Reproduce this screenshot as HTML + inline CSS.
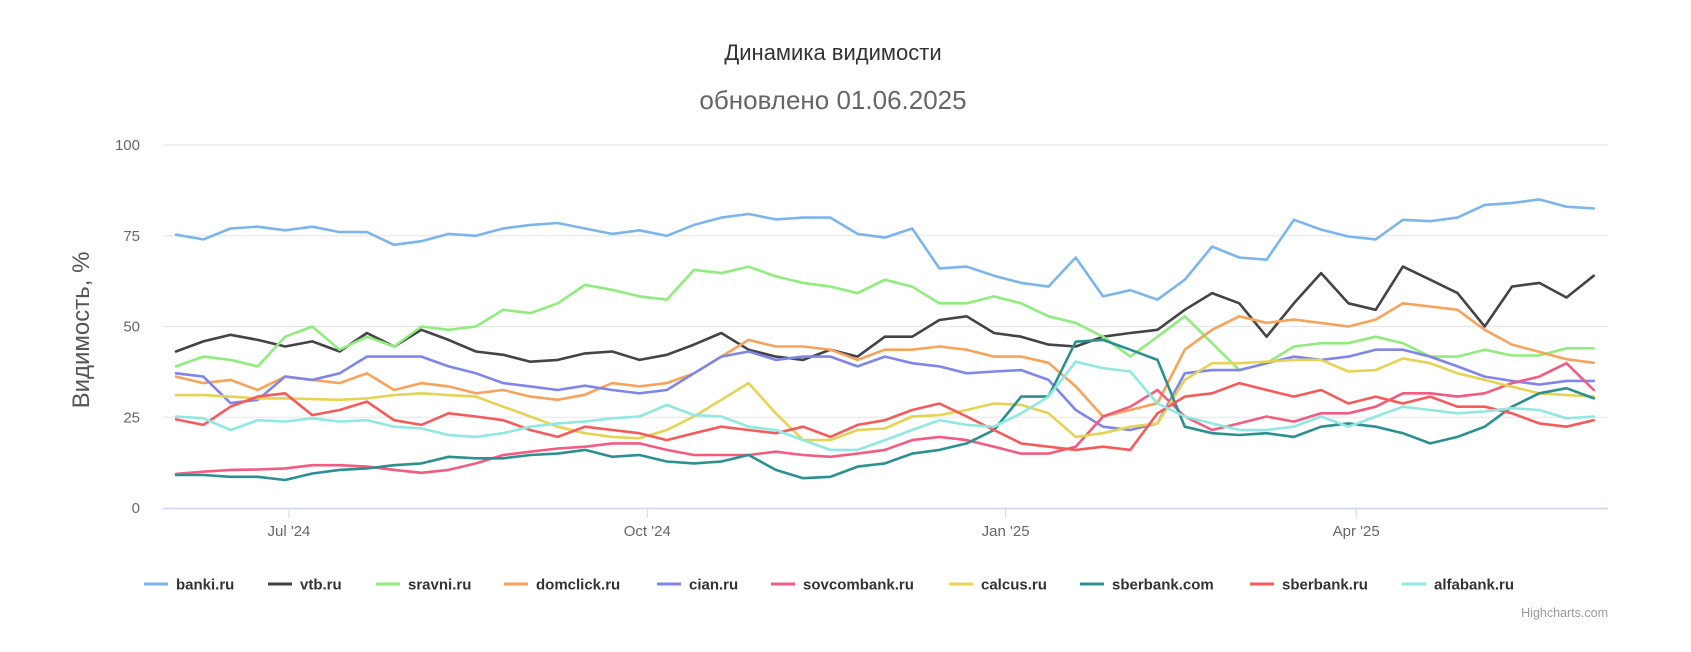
<!DOCTYPE html>
<html><head><meta charset="utf-8"><style>
html,body{margin:0;padding:0;background:#fff;}
svg{display:block;font-family:"Liberation Sans","DejaVu Sans",sans-serif;}
</style></head><body>
<svg id="chart" width="1691" height="652" viewBox="0 0 1691 652">
<text x="833" y="60" text-anchor="middle" font-size="22" fill="#333">Динамика видимости</text>
<text x="833" y="109" text-anchor="middle" font-size="26" fill="#666">обновлено 01.06.2025</text>
<text transform="translate(89,330) rotate(-90)" text-anchor="middle" font-size="24" fill="#555">Видимость, %</text>
<g id="grid"></g>
<g id="series"></g>
<g id="legend"></g>
<text x="1608" y="617" text-anchor="end" font-size="12.5" fill="#999">Highcharts.com</text>
</svg>
<script>
const seriesNames = ["banki.ru","vtb.ru","sravni.ru","domclick.ru","cian.ru","sovcombank.ru","calcus.ru","sberbank.com","sberbank.ru","alfabank.ru"];
const seriesColors = ["#7cb5ec","#434348","#90ed7d","#f7a35c","#8085e9","#f15c80","#e4d354","#2b908f","#f45b5b","#91e8e1"];
const yTicks = [0,25,50,75,100];
const xTickDays = [29,121,213,303];
const xTickLabels = ["Jul '24","Oct '24","Jan '25","Apr '25"];
const dayStep = 7;
const banki = [75.3,74,77,77.5,76.5,77.5,76,76,72.5,73.5,75.5,75,77,78,78.5,77,75.5,76.5,75,78,80,81,79.5,80,80,75.5,74.5,77,66,66.5,64,62,61,69,58.3,60,57.4,62.9,72,69,68.4,79.4,76.7,74.8,74,79.4,79,80,83.5,84,85,83,82.5];
const vtb = [43.1,45.9,47.7,46.3,44.5,45.9,43.1,48.2,44.5,49.1,46.3,43.1,42.2,40.3,40.8,42.6,43.1,40.8,42.2,45,48.2,43.6,41.7,40.8,43.6,41.7,47.2,47.2,51.8,52.8,48.2,47.2,45,44.5,47.2,48.2,49.1,54.6,59.2,56.4,47.2,56.4,64.7,56.4,54.6,66.5,62.9,59.2,50,61,62,58,64];
const sravni = [39,41.7,40.8,39,47.2,50,43.6,47.2,44.5,50,49.1,50,54.6,53.7,56.4,61.5,60.1,58.3,57.4,65.6,64.7,66.5,63.8,62,61,59.2,62.9,61,56.4,56.4,58.3,56.4,52.8,51,47.2,41.7,47.2,52.8,45.4,38,39.9,44.5,45.4,45.4,47.2,45.4,41.7,41.7,43.6,42,42,44,44];
const domclick = [36.2,34.4,35.3,32.5,36.2,35.3,34.4,37.1,32.5,34.4,33.5,31.6,32.5,30.7,29.8,31.2,34.4,33.5,34.4,37.1,41.7,46.3,44.5,44.5,43.6,40.8,43.6,43.6,44.5,43.6,41.7,41.7,40,33.5,25.2,27,28.9,43.6,49.1,52.8,51,51.9,51,50,51.9,56.4,55.5,54.6,49.1,45,43,41,40];
const cian = [37.1,36.2,28.9,29.8,36.2,35.3,37.1,41.7,41.7,41.7,39,37.1,34.4,33.5,32.5,33.7,32.5,31.6,32.5,37.1,41.7,43.1,40.8,41.7,41.7,39,41.7,39.9,39,37.1,37.6,38,35.3,27,22.4,21.5,23.3,37.1,38,38,39.9,41.7,40.8,41.7,43.6,43.6,41.7,39,36.2,35,34,35,35];
const sovcombank = [9.4,10,10.5,10.6,10.9,11.8,11.8,11.4,10.5,9.7,10.5,12.3,14.6,15.5,16.4,16.9,17.8,17.8,16,14.6,14.6,14.6,15.5,14.6,14.1,15,16,18.7,19.6,18.7,16.9,15,15,16.9,25.2,27.9,32.5,25.2,21.5,23.3,25.2,23.8,26.1,26.1,27.9,31.6,31.6,30.7,31.6,34.4,36.2,39.9,32.5];
const calcus = [31.1,31.1,30.7,30.2,30.2,30,29.8,30.2,31.1,31.6,31.1,30.7,27.9,25.2,22.4,20.6,19.6,19.2,21.5,25.2,29.8,34.4,26.1,18.7,18.7,21.5,21.9,25.2,25.6,27,28.8,28.4,26.1,19.6,20.6,22.4,23.3,35.3,39.9,39.9,40.3,40.8,40.8,37.6,38,41.2,39.9,37.1,35.3,33.4,31.6,31.1,30.7];
const sberbankCom = [9.1,9.1,8.6,8.6,7.7,9.5,10.5,10.9,11.8,12.3,14.1,13.7,13.7,14.6,15,16,14.1,14.6,12.8,12.3,12.8,14.6,10.5,8.2,8.6,11.4,12.3,15,16,17.8,21.5,30.7,30.7,45.8,46.3,43.6,40.8,22.4,20.6,20.1,20.6,19.6,22.4,23.3,22.4,20.6,17.8,19.6,22.4,27.9,31.6,33,30.2];
const sberbankRu = [24.4,22.9,27.9,30.7,31.6,25.6,27,29.3,24.2,22.9,26.1,25.2,24.2,21.5,19.6,22.4,21.5,20.6,18.7,20.6,22.4,21.5,20.6,22.4,19.6,22.9,24.2,27,28.8,25.2,21.5,17.8,16.9,16,16.9,16,26.1,30.7,31.6,34.4,32.5,30.7,32.5,28.8,30.7,28.8,30.7,27.9,27.9,26.1,23.3,22.4,24.2];
const alfabank = [25.2,24.7,21.5,24.2,23.8,24.7,23.8,24.2,22.4,21.9,20.1,19.6,20.6,22.4,23.3,23.8,24.7,25.2,28.4,25.6,25.2,22.4,21.5,18.7,16,16,18.7,21.5,24.2,22.9,22.4,26.1,30.7,40.3,38.5,37.6,28.8,25.2,23.3,21.5,21.5,22.4,25.2,22.4,25.2,27.9,27,26.1,26.6,27.5,27,24.7,25.2];
const allSeries = [banki,vtb,sravni,domclick,cian,sovcombank,calcus,sberbankCom,sberbankRu,alfabank];

const NS="http://www.w3.org/2000/svg";
const plotL=163, plotR=1608, yTop=145, yBot=508, x0=176, pxPerDay=3.895;
function xScale(d){return x0+d*pxPerDay;}
function yScale(v){return yBot-(v/100)*(yBot-yTop);}
function mk(tag,attrs,parent){const e=document.createElementNS(NS,tag);for(const k in attrs)e.setAttribute(k,attrs[k]);parent.appendChild(e);return e;}

const grid=document.getElementById('grid');
yTicks.forEach(v=>{
  if(v>0){const l=mk('line',{x1:plotL,x2:plotR,y1:yScale(v),y2:yScale(v),stroke:'#e6e6e6','stroke-width':1},grid);
  
  }
  const t=mk('text',{x:140,y:yScale(v)+5,'text-anchor':'end','font-size':15,fill:'#666'},grid);
  t.textContent=v;
  
  
});
const ax=mk('line',{x1:plotL,x2:plotR,y1:yBot+0.5,y2:yBot+0.5,stroke:'#ccd6eb','stroke-width':1.5},grid);


xTickDays.forEach((d,i)=>{
  const tk=mk('line',{x1:xScale(d),x2:xScale(d),y1:yBot,y2:yBot+10,stroke:'#ccd6eb','stroke-width':1},grid);
  
  
  const t=mk('text',{x:xScale(d),y:536,'text-anchor':'middle','font-size':15,fill:'#666'},grid);
  t.textContent=xTickLabels[i];
  
  
});

const sg=document.getElementById('series');
allSeries.forEach((arr,si)=>{
  const pts=arr.map((v,i)=>xScale(i*dayStep).toFixed(1)+','+yScale(v).toFixed(1)).join(' ');
  const p=mk('polyline',{points:pts,fill:'none',stroke:seriesColors[si],'stroke-width':2.6,'stroke-linejoin':'round','stroke-linecap':'round'},sg);
  
  
});

const legendX=[144,268,376,504,657,771,949,1080,1250,1402];
const lg=document.getElementById('legend');
seriesNames.forEach((n,i)=>{
  const g=mk('g',{},lg);
  
  
  mk('line',{x1:legendX[i],x2:legendX[i]+24,y1:584,y2:584,stroke:seriesColors[i],'stroke-width':3},g);
  const t=mk('text',{x:legendX[i]+32,y:589.5,'font-size':15,'font-weight':'bold',fill:'#333'},g);
  t.textContent=n;
});
</script>
</body></html>
